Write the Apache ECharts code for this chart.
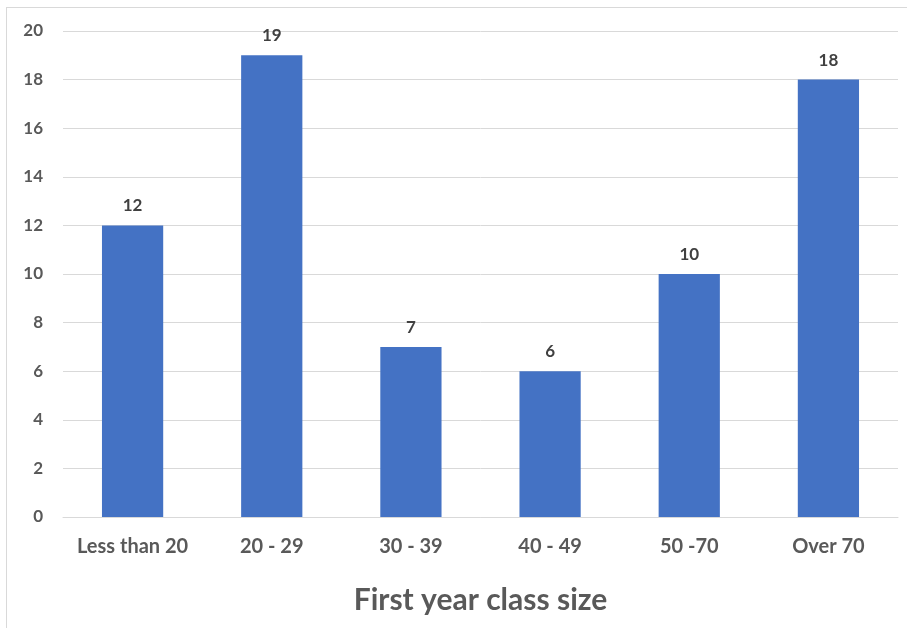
<!DOCTYPE html>
<html><head><meta charset="utf-8">
<script src="https://cdn.jsdelivr.net/npm/echarts@6/dist/echarts.min.js"></script>
<style>html,body{margin:0;padding:0;background:#fff}#c{width:907px;height:628px}
#frame{position:absolute;left:6px;top:7px;width:905px;height:630px;border:1px solid #d9d9d9;box-sizing:border-box;pointer-events:none}</style>
</head><body><div id="c"></div><div id="frame"></div>
<script>
const categories = ['Less than 20','20 - 29','30 - 39','40 - 49','50 -70','Over 70'];
const values = [12,19,7,6,10,18];
const yTicks = {min:0,max:20,interval:2};
const xTitle = 'First year class size';
const chart = echarts.init(document.getElementById('c'));
const font = 'Lato, "Open Sans", sans-serif';
chart.setOption({
  animation:false,
  grid:{left:63,right:9,top:31,bottom:111,containLabel:false},
  xAxis:{type:'category',data:categories,
    axisLine:{lineStyle:{color:'#d9d9d9',width:1}},axisTick:{show:false},
    axisLabel:{interval:0,color:'#595959',fontWeight:'bold',fontSize:20,fontFamily:font,margin:20},
    name:xTitle,nameLocation:'middle',nameGap:68,
    nameTextStyle:{color:'#595959',fontWeight:'bold',fontSize:30,fontFamily:font}},
  yAxis:{type:'value',min:yTicks.min,max:yTicks.max,interval:yTicks.interval,
    axisLine:{show:false},axisTick:{show:false},
    splitLine:{lineStyle:{color:'#d9d9d9',width:1}},
    axisLabel:{color:'#595959',fontWeight:'bold',fontSize:17,fontFamily:font,margin:20}},
  series:[{type:'bar',data:values,barWidth:'44%',itemStyle:{color:'#4472c4'},
    label:{show:true,position:'top',distance:11,color:'#404040',fontWeight:'bold',fontSize:17,fontFamily:font}}]
});
</script></body></html>
